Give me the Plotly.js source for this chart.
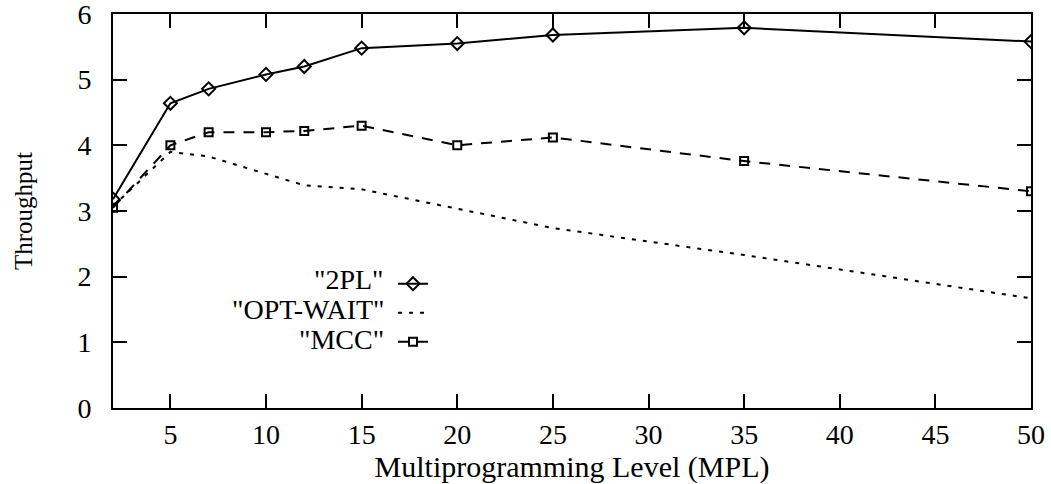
<!DOCTYPE html>
<html><head><meta charset="utf-8">
<script src="https://cdn.plot.ly/plotly-3.0.1.min.js"></script>
<style>body{margin:0;background:#fff}#c{width:1051px;height:484px}</style>
</head><body><div id="c"></div>
<script>
const mpl = [2, 5, 7, 10, 12, 15, 20, 25, 35, 50];
const tp2PL = [3.18, 4.64, 4.86, 5.08, 5.2, 5.48, 5.55, 5.68, 5.79, 5.58];
const tpOptWait = [3.07, 3.9, 3.83, 3.56, 3.39, 3.33, 3.03, 2.74, 2.33, 1.67];
const tpMCC = [3.05, 4.0, 4.2, 4.2, 4.22, 4.3, 4.0, 4.12, 3.76, 3.3];
const seriesNames = ['"2PL"', '"OPT-WAIT"', '"MCC"'];
const xTicks = [5, 10, 15, 20, 25, 30, 35, 40, 45, 50];
const yTicks = [0, 1, 2, 3, 4, 5, 6];

const serif = 'Liberation Serif, Times New Roman, serif';
const traces = [
  {x: mpl, y: tp2PL, mode: 'lines+markers', name: '\u00a0',
   line: {color: '#000', width: 2},
   marker: {symbol: 'diamond-open', size: 10, color: '#000', line: {width: 2, color: '#000'}}},
  {x: mpl, y: tpOptWait, mode: 'lines', name: '\u00a0',
   line: {color: '#000', width: 2, dash: '4px,7px'}},
  {x: mpl, y: tpMCC, mode: 'lines+markers', name: '\u00a0',
   line: {color: '#000', width: 2, dash: '11px,9px'},
   marker: {symbol: 'square-open', size: 8, color: '#000', line: {width: 2, color: '#000'}}}
];
const legY = [0.325, 0.250, 0.175];
const annotations = seriesNames.map((t, i) => ({
  xref: 'paper', yref: 'paper', x: 0.297, y: legY[i], xanchor: 'right', yanchor: 'middle',
  text: t, showarrow: false, font: {family: serif, size: 28, color: '#000'}
}));
const layout = {
  width: 1051, height: 484,
  margin: {l: 113, r: 20, t: 14, b: 76},
  paper_bgcolor: '#fff', plot_bgcolor: '#fff',
  showlegend: true,
  legend: {x: 0.305, y: 0.365, xanchor: 'left', yanchor: 'top', bgcolor: 'rgba(0,0,0,0)',
           font: {family: serif, size: 20, color: '#000'}, itemwidth: 30},
  annotations: annotations,
  xaxis: {range: [2, 50], tickvals: xTicks, ticktext: xTicks.map(String),
          ticks: 'inside', ticklen: 14, tickwidth: 2, tickcolor: '#000',
          showline: true, linecolor: '#000', linewidth: 2, mirror: 'ticks',
          showgrid: false, zeroline: false, ticklabeloverflow: 'allow',
          tickfont: {family: serif, size: 28, color: '#000'},
          title: {text: 'Multiprogramming Level (MPL)', standoff: 2,
                  font: {family: serif, size: 30, color: '#000'}}},
  yaxis: {range: [0, 6], tickvals: yTicks, ticktext: yTicks.map(String),
          ticks: 'inside', ticklen: 14, tickwidth: 2, tickcolor: '#000',
          showline: true, linecolor: '#000', linewidth: 2, mirror: 'ticks',
          showgrid: false, zeroline: false, ticklabelstandoff: 14, ticklabeloverflow: 'allow',
          tickfont: {family: serif, size: 28, color: '#000'},
          title: {text: 'Throughput', standoff: 38,
                  font: {family: serif, size: 25, color: '#000'}}}
};
Plotly.newPlot('c', traces, layout, {staticPlot: true, displayModeBar: false});
</script></body></html>
